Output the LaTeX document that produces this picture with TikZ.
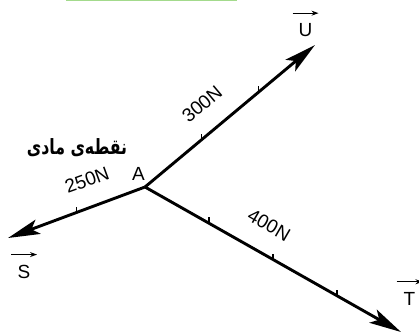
\documentclass[tikz,border=0pt]{standalone}
\usepackage{fontspec}
\setmainfont{Liberation Sans}
\newfontfamily\farsifont[Script=Arabic]{DejaVu Sans}
\TeXXeTstate=1
\usetikzlibrary{arrows.meta,calc}
\definecolor{fgreen}{HTML}{A3DA8C}

\begin{document}
\begin{tikzpicture}[x=1pt, y=-1pt,
    every node/.style={font=\fontsize{19}{21}\selectfont, inner sep=0pt},
    force/.style={line width=2.9pt, -{Stealth[length=32pt,width=15pt,inset=7pt]}},
    tickmark/.style={line width=1.3pt},
    vecarrow/.style={line width=1pt, -{Stealth[length=7pt,width=5pt]}}]
  \useasboundingbox (0,0) rectangle (419,331);
  \draw[fgreen, line width=1.5pt] (66,0.75) -- (237,0.75);

  % point A and the tips of the three forces
  \coordinate (A) at (145,187);
  \coordinate (U) at (315,45);
  \coordinate (S) at (8,238);
  \coordinate (T) at (401,332);

  \draw[force] (A) -- (U) coordinate[pos=1/3] (u1) coordinate[pos=2/3] (u2);
  \draw[force] (A) -- (S) coordinate[pos=1/2] (s1);
  \draw[force] (A) -- (T) coordinate[pos=1/4] (t1) coordinate[pos=1/2] (t2)
    coordinate[pos=3/4] (t3);
  \foreach \c in {u1,u2,s1,t1,t2,t3}
    \draw[tickmark] (\c) -- ++(0,-6);

  % magnitudes
  \node[rotate=40] (lbl300) at (202,104) {300N};
  \node[rotate=20] (lbl250) at (87,180) {250N};
  \node[rotate=-30] (lbl400) at (269,225) {400N};
  \node (lblA) at (138.5,174) {A};
  \node[font=\farsifont\bfseries\fontsize{21}{24}\selectfont] (mass) at (77,147.5)
    {\scalebox{0.75}[1]{\beginR نقطه‌ی مادی\endR}};

  % vector names
  \node (lblU) at (305.5,30) {U};
  \node (lblS) at (24,271.5) {S};
  \node (lblT) at (409.5,298.5) {T};
  \foreach \v in {lblU,lblS,lblT}
    \draw[vecarrow] ([xshift=-13pt,yshift=10pt]\v.north)
      -- ([xshift=13pt,yshift=10pt]\v.north);
\end{tikzpicture}
\end{document}
